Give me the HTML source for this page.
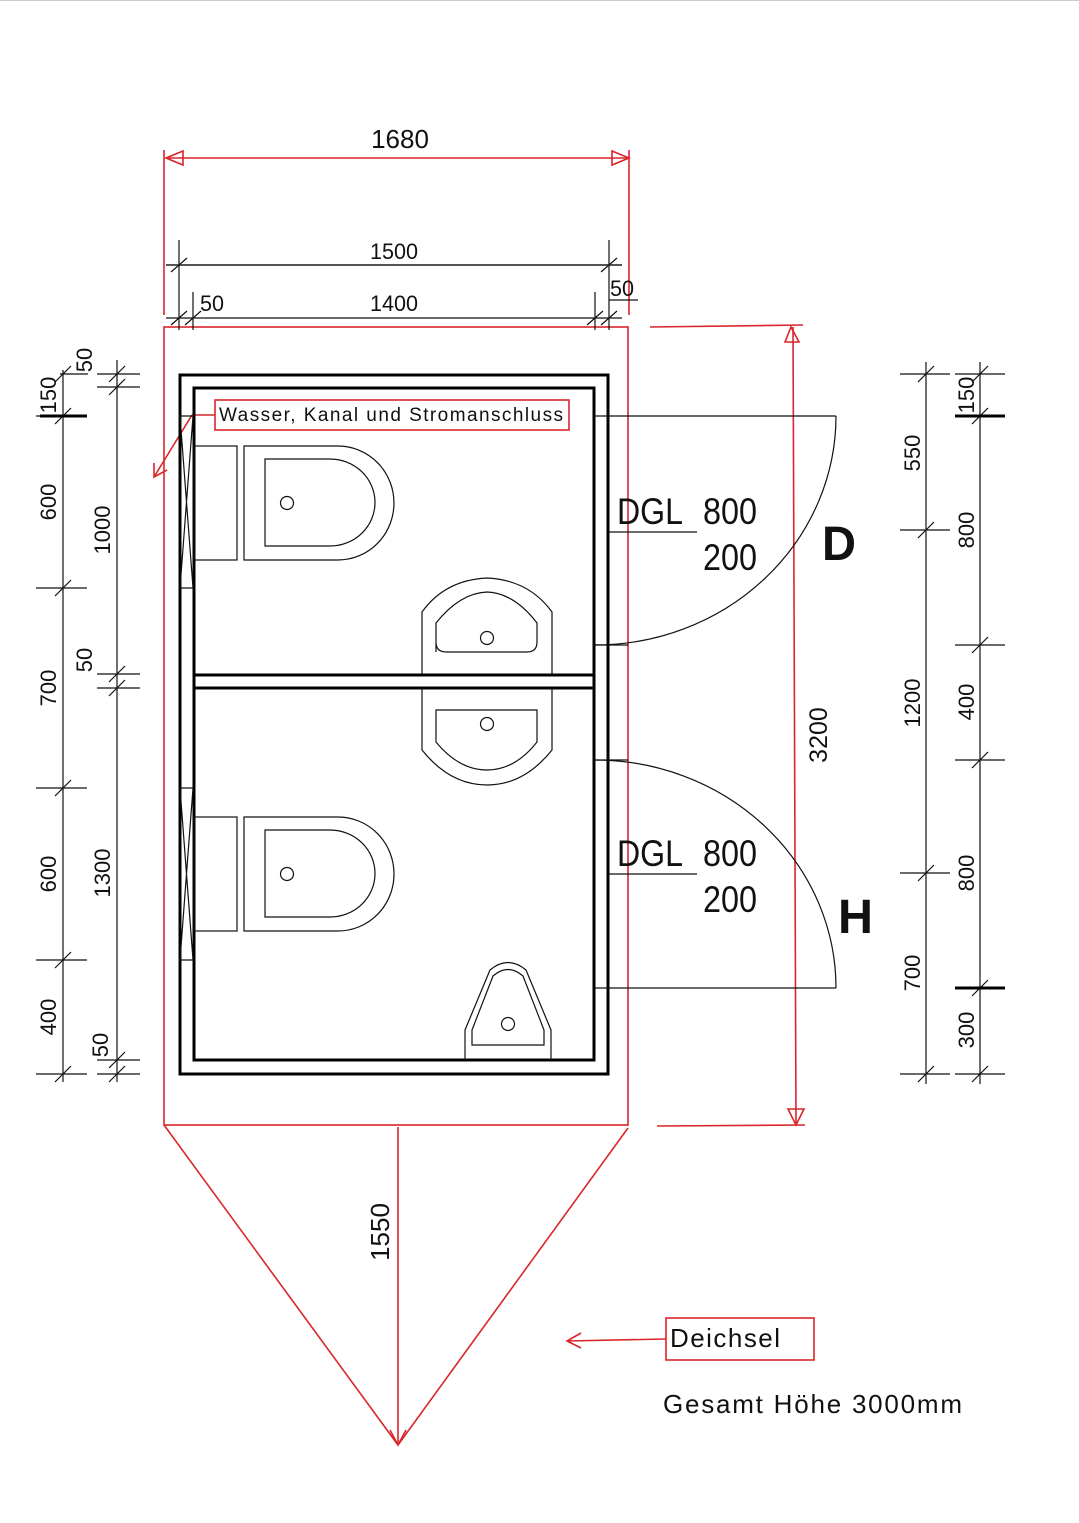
<!DOCTYPE html>
<html><head><meta charset="utf-8"><style>
html,body{margin:0;padding:0;background:#fff}
svg{display:block}
text{font-family:"Liberation Sans",sans-serif;fill:#111}
.n{font-family:"Liberation Sans Narrow","Liberation Sans",sans-serif}
</style></head><body>
<svg width="1079" height="1523" viewBox="0 0 1079 1523" xmlns="http://www.w3.org/2000/svg">
<line x1="0" y1="0.5" x2="1079" y2="0.5" stroke="#ccc"/>
<!-- red dims -->
<g stroke="#d9252b" stroke-width="1.6" fill="none">
<line x1="164" y1="150" x2="164" y2="315"/><line x1="629" y1="150" x2="629" y2="315"/>
<line x1="166" y1="158" x2="629" y2="158"/>
<path d="M183 151 L166 158 L183 165 Z M612 151 L629 158 L612 165 Z"/>
<rect x="164" y="327" width="464" height="798"/>
<line x1="650" y1="327" x2="803" y2="325"/><line x1="657" y1="1126" x2="805" y2="1125"/>
<line x1="793" y1="327" x2="796" y2="1125"/>
<path d="M785 342 L791 327 L799 342 Z M788 1109 L796 1125 L804 1109 Z"/>
<line x1="164" y1="1125" x2="398" y2="1445"/><line x1="628" y1="1128" x2="398" y2="1445"/>
<line x1="398" y1="1127" x2="398" y2="1445"/>
<path d="M390 1430 L398 1445 L406 1430"/>
<rect x="666" y="1318" width="148" height="42"/>
<line x1="666" y1="1339" x2="567" y2="1341"/><path d="M581 1333 L567 1341 L581 1348"/>
<rect x="215" y="400" width="354" height="30"/>
<line x1="215" y1="415" x2="192" y2="415"/><line x1="192" y1="415" x2="154" y2="477"/>
<path d="M154 463 L154 477 L167 470"/>
</g>
<text x="400" y="148" font-size="26" text-anchor="middle">1680</text>
<text x="670" y="1347" font-size="26" textLength="110" lengthAdjust="spacing">Deichsel</text>
<text x="663" y="1413" font-size="26" textLength="299" lengthAdjust="spacing">Gesamt Höhe 3000mm</text>
<text x="219" y="421" font-size="19" textLength="344" lengthAdjust="spacing">Wasser, Kanal und Stromanschluss</text>
<text transform="translate(389,1232) rotate(-90)" font-size="26" text-anchor="middle">1550</text>
<text transform="translate(827,735) rotate(-90)" font-size="25" text-anchor="middle">3200</text>
<!-- walls -->
<g stroke="#000" fill="none">
<rect x="180" y="375" width="428" height="699" stroke-width="3"/>
<rect x="194" y="388" width="400" height="672" stroke-width="3"/>
<line x1="194" y1="675" x2="594" y2="675" stroke-width="3"/>
<line x1="194" y1="688" x2="594" y2="688" stroke-width="3"/>
</g>
<g stroke="#111" stroke-width="1.2" fill="none">
<path d="M180 416 L194 416 M180 588 L194 588 M180 416 L193 588 M193 416 L180 588"/>
<path d="M180 788 L194 788 M180 960 L194 960 M180 788 L193 960 M193 788 L180 960"/>
<rect x="194" y="446" width="43" height="114"/>
<path d="M244 446 L338 446 A56 57 0 0 1 338 560 L244 560 Z"/>
<path d="M265 459 L330 459 A45 43.5 0 0 1 330 546 L265 546 Z"/>
<circle cx="287" cy="503" r="6.5"/>
<rect x="194" y="817" width="43" height="114"/>
<path d="M244 817 L338 817 A56 57 0 0 1 338 931 L244 931 Z"/>
<path d="M265 830 L330 830 A45 43.5 0 0 1 330 917 L265 917 Z"/>
<circle cx="287" cy="874" r="6.5"/>
<path d="M422 674 L422 612 Q445 580 487 578 Q529 580 552 612 L552 674"/>
<path d="M436 652 L436 623 Q460 593 487 592 Q514 593 537 623 L537 642 Q537 652 527 652 L446 652 Q436 652 436 642"/>
<circle cx="487" cy="638" r="6.5"/>
<path d="M422 688 L422 750 Q450 785 487 785 Q524 785 552 750 L552 688"/>
<path d="M436 710 L537 710 L537 742 Q515 770 487 770 Q459 770 436 742 Z"/>
<circle cx="487" cy="724" r="6.5"/>
<path d="M465 1060 L465 1030 L490 970 Q508 955 526 970 L551 1030 L551 1060"/>
<path d="M472 1045 L472 1030 L493 976 Q508 963 523 976 L544 1030 L544 1045 Z"/>
<circle cx="508" cy="1024" r="6.5"/>
<line x1="594" y1="416" x2="836" y2="416"/>
<path d="M836 416 A241 229 0 0 1 595 645"/>
<line x1="594" y1="645" x2="628" y2="645"/>
<line x1="594" y1="988" x2="836" y2="988"/>
<path d="M595 760 A241 228 0 0 1 836 988"/>
<line x1="594" y1="760" x2="628" y2="760"/>
<line x1="609" y1="532" x2="697" y2="532"/>
<line x1="609" y1="874" x2="697" y2="874"/>
<line x1="179" y1="240" x2="179" y2="330"/><line x1="609" y1="240" x2="609" y2="330"/>
<line x1="193" y1="292" x2="193" y2="330"/><line x1="595" y1="292" x2="595" y2="330"/>
<line x1="166" y1="265" x2="622" y2="265" stroke-width="2" stroke="#555"/>
<line x1="166" y1="318" x2="622" y2="318"/>
<path d="M171 272 L187 258 M601 272 L617 258 M171 325 L187 311 M185 325 L201 311 M587 325 L603 311 M601 325 L617 311"/>
<line x1="609" y1="300" x2="638" y2="300"/>
<line x1="63" y1="370" x2="63" y2="1082"/>
<line x1="117" y1="360" x2="117" y2="1082"/>
<path d="M36 416 L87 416 M36 588 L87 588 M36 788 L87 788 M36 960 L87 960 M36 1074 L87 1074 M60 374 L88 374"/>
<path d="M97 374 L140 374 M97 387 L140 387 M97 674 L140 674 M97 688 L140 688 M97 1060 L140 1060 M97 1074 L140 1074"/>
<path d="M55 424 L71 408 M55 596 L71 580 M55 796 L71 780 M55 968 L71 952 M55 1082 L71 1066 M55 382 L71 366"/>
<path d="M109 382 L125 366 M109 395 L125 379 M109 682 L125 666 M109 696 L125 680 M109 1068 L125 1052 M109 1082 L125 1066"/>
<line x1="926" y1="362" x2="926" y2="1084"/>
<line x1="980" y1="362" x2="980" y2="1084"/>
<path d="M900 374 L950 374 M900 530 L950 530 M900 873 L950 873 M900 1074 L950 1074"/>
<path d="M955 374 L1005 374 M955 416 L1005 416 M955 645 L1005 645 M955 760 L1005 760 M955 988 L1005 988 M955 1074 L1005 1074"/>
<path d="M918 382 L934 366 M918 538 L934 522 M918 881 L934 865 M918 1082 L934 1066"/>
<path d="M972 382 L988 366 M972 424 L988 408 M972 653 L988 637 M972 768 L988 752 M972 996 L988 980 M972 1082 L988 1066"/>
</g>
<g stroke="#000" stroke-width="3"><line x1="40" y1="416" x2="87" y2="416"/><line x1="955" y1="416" x2="1005" y2="416"/><line x1="955" y1="988" x2="1005" y2="988"/></g>
<g font-size="22" class="n">
<text x="200" y="311" textLength="24" lengthAdjust="spacingAndGlyphs">50</text><text x="370" y="311" textLength="48" lengthAdjust="spacingAndGlyphs">1400</text>
<text x="370" y="259" textLength="48" lengthAdjust="spacingAndGlyphs">1500</text><text x="610" y="296" textLength="24" lengthAdjust="spacingAndGlyphs">50</text>
</g>
<g font-size="22" text-anchor="middle">
<text transform="translate(56,395) rotate(-90)">150</text>
<text transform="translate(56,502) rotate(-90)">600</text>
<text transform="translate(56,688) rotate(-90)">700</text>
<text transform="translate(56,874) rotate(-90)">600</text>
<text transform="translate(56,1017) rotate(-90)">400</text>
<text transform="translate(92,360) rotate(-90)">50</text>
<text transform="translate(110,530) rotate(-90)">1000</text>
<text transform="translate(92,660) rotate(-90)">50</text>
<text transform="translate(110,873) rotate(-90)">1300</text>
<text transform="translate(108,1045) rotate(-90)">50</text>
<text transform="translate(920,453) rotate(-90)">550</text>
<text transform="translate(920,703) rotate(-90)">1200</text>
<text transform="translate(920,973) rotate(-90)">700</text>
<text transform="translate(974,395) rotate(-90)">150</text>
<text transform="translate(974,530) rotate(-90)">800</text>
<text transform="translate(974,702) rotate(-90)">400</text>
<text transform="translate(974,873) rotate(-90)">800</text>
<text transform="translate(974,1030) rotate(-90)">300</text>
</g>
<g font-size="37">
<text x="617" y="524" textLength="66" lengthAdjust="spacingAndGlyphs">DGL</text><text x="703" y="524" textLength="54" lengthAdjust="spacingAndGlyphs">800</text><text x="703" y="570" textLength="54" lengthAdjust="spacingAndGlyphs">200</text>
<text x="617" y="866" textLength="66" lengthAdjust="spacingAndGlyphs">DGL</text><text x="703" y="866" textLength="54" lengthAdjust="spacingAndGlyphs">800</text><text x="703" y="912" textLength="54" lengthAdjust="spacingAndGlyphs">200</text>
</g>
<text x="822" y="560" font-size="48" font-weight="bold" textLength="34" lengthAdjust="spacingAndGlyphs">D</text>
<text x="838" y="933" font-size="48" font-weight="bold" textLength="35" lengthAdjust="spacingAndGlyphs">H</text>
</svg>
</body></html>
